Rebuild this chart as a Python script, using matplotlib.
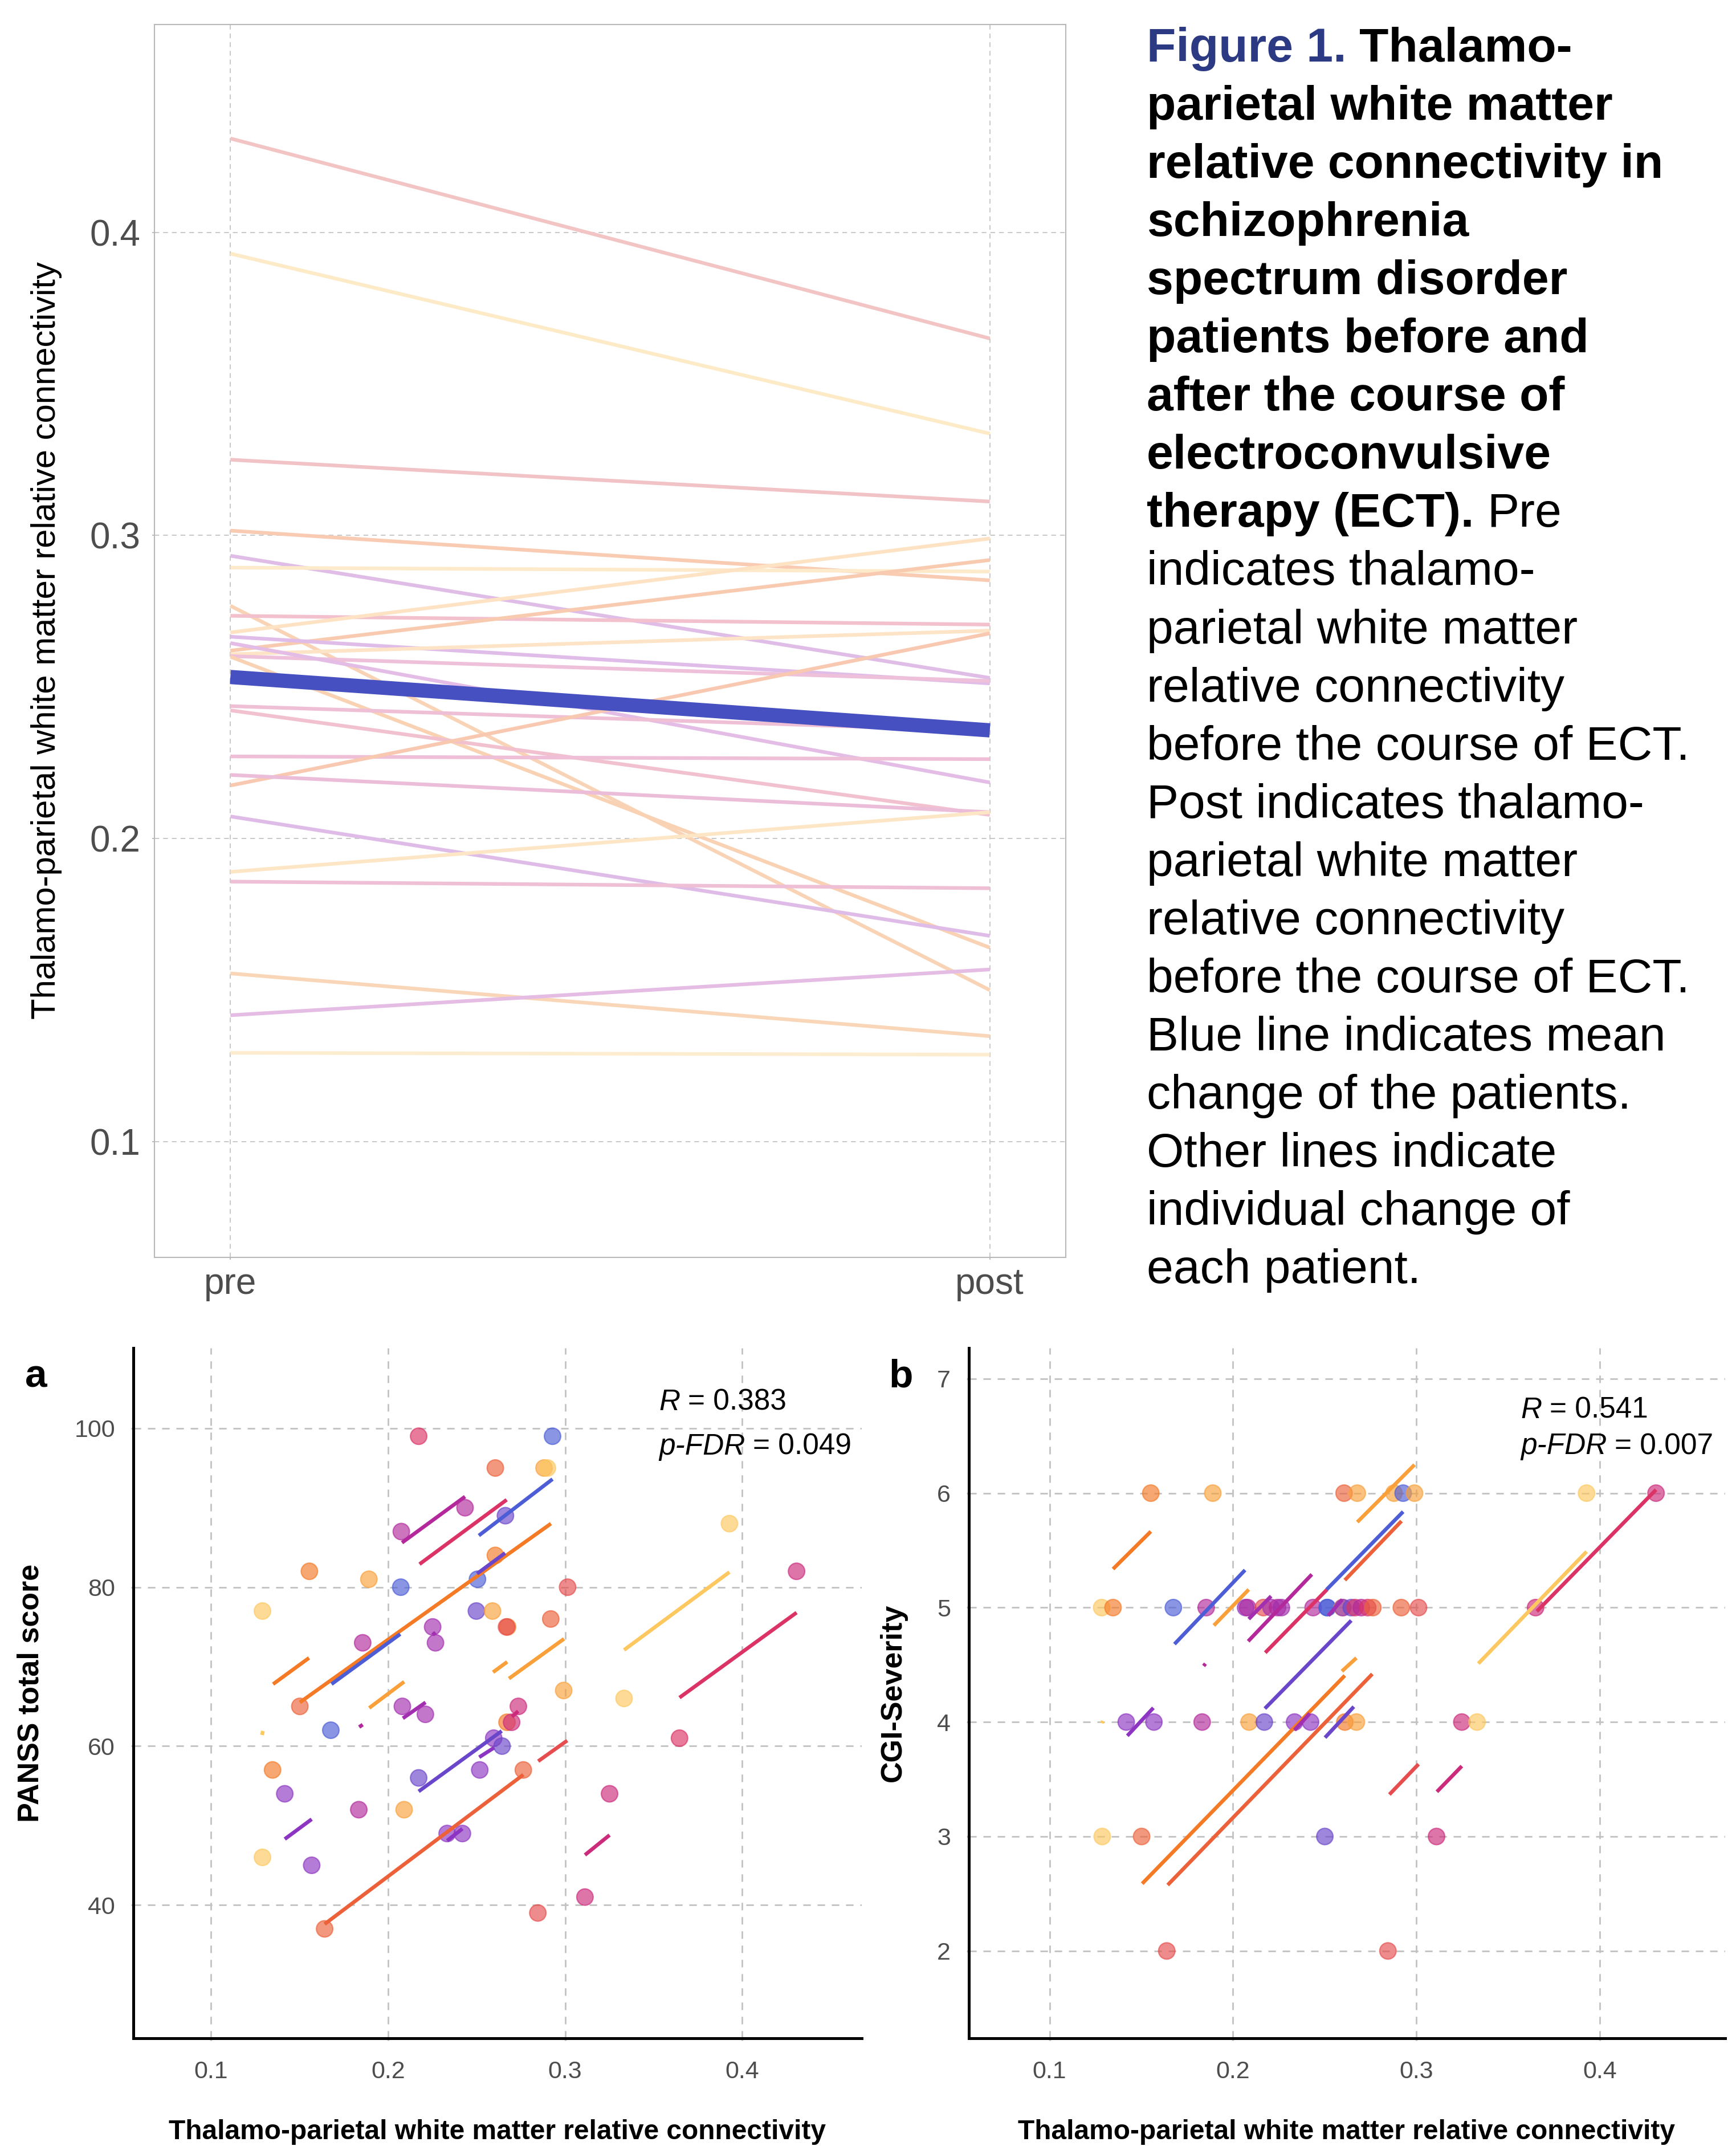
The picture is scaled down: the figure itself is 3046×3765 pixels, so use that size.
import matplotlib
matplotlib.use("Agg")
import matplotlib.pyplot as plt
import numpy as np

# ---------------- data ----------------
# Top panel: per-patient thalamo-parietal relative connectivity
pre_conn = [0.431, 0.393, 0.325, 0.3016, 0.2933, 0.2894, 0.2768, 0.2735, 0.268, 0.262,
            0.2666, 0.2608, 0.2602, 0.2600, 0.2645, 0.2437, 0.2423, 0.2271, 0.2175, 0.221,
            0.2073, 0.189, 0.1858, 0.1555, 0.1417, 0.1293]
post_conn = [0.365, 0.3336, 0.3112, 0.2852, 0.2530, 0.2881, 0.150, 0.2706, 0.299, 0.2919,
             0.2512, 0.2686, 0.2520, 0.164, 0.2185, 0.2355, 0.2078, 0.2262, 0.2677, 0.2087,
             0.1679, 0.2087, 0.1836, 0.1348, 0.1568, 0.1287]
top_line_colors = ['#f3c4c4', '#fdebc8', '#f2c3c6', '#f8cbb2', '#dfbde7', '#fdeacb', '#f9d3b5',
                   '#f2c1cd', '#fde3c3', '#f8cbb0', '#e0bde8', '#fde4c6', '#eec0d9', '#f9d1b3',
                   '#e3bde6', '#efbfd6', '#f1c1cf', '#eebfd6', '#f8c8b0', '#ecbdd8', '#dfbce8',
                   '#fde6c6', '#efbfd5', '#f9d6b8', '#e4bce4', '#fdedd0']
time_labels = ['pre', 'post']

PAL = {'blue': '#4c5dd6', 'indigo': '#6a46ca', 'violet': '#8d35c2', 'purple': '#a22eb0',
       'magenta': '#b3299c', 'rose': '#cc2b7c', 'crimson': '#dc3366', 'red': '#e54d4e',
       'redor': '#ec6139', 'orange': '#f47a26', 'lorange': '#f9a03a', 'yellow': '#fdc860'}

# Panel a: PANSS points
a_x = [0.2173, 0.2929, 0.2606, 0.2881, 0.2900, 0.2435, 0.2663, 0.2075, 0.3928, 0.2606,
       0.1556, 0.4307, 0.1892, 0.2072, 0.2505, 0.3014, 0.1291, 0.2499, 0.2590, 0.2919,
       0.2675, 0.2669, 0.2252, 0.1857, 0.2268, 0.2992, 0.3333, 0.1502, 0.2081, 0.2736,
       0.2211, 0.1677, 0.2672, 0.2698, 0.3646, 0.2597, 0.2644, 0.1348, 0.2518, 0.2764,
       0.2173, 0.1417, 0.3251, 0.1835, 0.2091, 0.2334, 0.2420, 0.1291, 0.1569, 0.3112,
       0.2846, 0.1642]
a_y = [99, 99, 95, 95, 95, 90, 89, 87, 88, 84,
       82, 82, 81, 80, 81, 80, 77, 77, 77, 76,
       75, 75, 75, 73, 73, 67, 66, 65, 65, 65,
       64, 62, 63, 63, 61, 61, 60, 57, 57, 57,
       56, 54, 54, 52, 52, 49, 49, 46, 45, 41,
       39, 37]
a_col = ['crimson', 'blue', 'redor', 'lorange', 'yellow', 'magenta', 'indigo', 'magenta', 'yellow', 'orange',
         'orange', 'rose', 'lorange', 'blue', 'blue', 'red', 'yellow', 'indigo', 'lorange', 'redor',
         'orange', 'red', 'purple', 'magenta', 'purple', 'lorange', 'yellow', 'redor', 'purple', 'rose',
         'purple', 'blue', 'orange', 'rose', 'crimson', 'violet', 'indigo', 'orange', 'violet', 'redor',
         'indigo', 'violet', 'rose', 'magenta', 'lorange', 'violet', 'violet', 'yellow', 'violet', 'rose',
         'red', 'redor']
# Panel a: repeated-measures fit segments
a_seg_x0 = [0.2079, 0.2178, 0.2513, 0.1502, 0.2503, 0.1681, 0.1351, 0.3333, 0.3646, 0.2683, 0.2593, 0.1894,
            0.2084, 0.1837, 0.2173, 0.2515, 0.2700, 0.2848, 0.1642, 0.1417, 0.2334, 0.3112, 0.2252, 0.1288]
a_seg_x1 = [0.2435, 0.2670, 0.2929, 0.2920, 0.2661, 0.2069, 0.1554, 0.3928, 0.4307, 0.2994, 0.2673, 0.2091,
            0.2212, 0.1857, 0.2642, 0.2599, 0.2735, 0.3012, 0.2764, 0.1569, 0.2420, 0.3251, 0.2268, 0.1294]
a_seg_y0 = [85.6, 82.9, 86.5, 65.5, 81.7, 67.8, 67.8, 72.1, 66.1, 68.5, 69.3, 64.8,
            63.5, 62.4, 54.3, 58.6, 63.7, 58.1, 37.6, 48.3, 48.1, 46.3, 74.0, 61.4]
a_seg_y1 = [91.4, 91.0, 93.6, 88.0, 84.3, 74.1, 71.1, 81.9, 76.8, 73.5, 70.6, 68.1,
            65.5, 62.7, 61.9, 59.8, 64.4, 60.7, 56.4, 50.8, 49.6, 48.8, 74.3, 61.9]
a_seg_col = ['magenta', 'crimson', 'blue', 'orange', 'indigo', 'blue', 'orange', 'yellow', 'crimson', 'lorange',
             'lorange', 'lorange', 'purple', 'magenta', 'indigo', 'violet', 'rose', 'red', 'redor', 'violet',
             'violet', 'rose', 'purple', 'yellow']

# Panel b: CGI-S points
b_x = [0.1552, 0.189, 0.2606, 0.2678, 0.2878, 0.2928, 0.299, 0.3928, 0.4307,
       0.1284, 0.1346, 0.1675, 0.1854, 0.2069, 0.2080, 0.2166, 0.2208, 0.2243, 0.2264, 0.2437,
       0.2513, 0.2516, 0.2596, 0.2599, 0.2645, 0.2666, 0.2700, 0.2735, 0.2763, 0.2918, 0.3012, 0.3650,
       0.1418, 0.1569, 0.1832, 0.2088, 0.2171, 0.2336, 0.2423, 0.2610, 0.2673, 0.3248, 0.3331,
       0.1287, 0.1502, 0.2501, 0.3110,
       0.1639, 0.2845]
b_y = [6] * 9 + [5] * 23 + [4] * 11 + [3] * 4 + [2] * 2
b_col = ['orange', 'lorange', 'redor', 'lorange', 'lorange', 'blue', 'lorange', 'yellow', 'rose',
         'yellow', 'orange', 'blue', 'magenta', 'violet', 'magenta', 'red', 'purple', 'magenta', 'purple', 'magenta',
         'blue', 'blue', 'lorange', 'violet', 'indigo', 'crimson', 'magenta', 'crimson', 'redor', 'redor', 'red', 'rose',
         'violet', 'violet', 'magenta', 'lorange', 'indigo', 'violet', 'violet', 'orange', 'lorange', 'rose', 'yellow',
         'yellow', 'redor', 'indigo', 'rose',
         'red', 'red']
b_seg_x0 = [0.1346, 0.1681, 0.1896, 0.2083, 0.2176, 0.2511, 0.2610, 0.2678, 0.2174, 0.1505, 0.1644, 0.2594,
            0.2502, 0.1424, 0.1840, 0.3338, 0.3657, 0.2853, 0.3112, 0.2086, 0.2336, 0.2520, 0.1285]
b_seg_x1 = [0.1552, 0.2066, 0.2086, 0.2430, 0.2513, 0.2928, 0.2919, 0.2990, 0.2645, 0.2610, 0.2760, 0.2673,
            0.2659, 0.1566, 0.1850, 0.3928, 0.4307, 0.3012, 0.3248, 0.2208, 0.2419, 0.2596, 0.1290]
b_seg_y0 = [5.337, 4.681, 4.844, 4.706, 4.606, 5.158, 5.240, 5.747, 4.118, 2.588, 2.576, 4.444,
            3.864, 3.880, 4.490, 4.511, 4.967, 3.367, 3.391, 4.900, 3.930, 4.930, 3.990]
b_seg_y1 = [5.665, 5.328, 5.158, 5.290, 5.158, 5.838, 5.756, 6.248, 4.887, 4.406, 4.420, 4.560,
            4.134, 4.124, 4.510, 5.489, 6.030, 3.632, 3.615, 5.100, 4.075, 5.070, 4.010]
b_seg_col = ['orange', 'blue', 'lorange', 'magenta', 'crimson', 'blue', 'redor', 'lorange', 'indigo', 'orange',
             'redor', 'lorange', 'indigo', 'violet', 'magenta', 'yellow', 'crimson', 'red', 'rose', 'purple',
             'purple', 'purple', 'yellow']

conn_ticks = [0.1, 0.2, 0.3, 0.4]
panss_ticks = [40, 60, 80, 100]
cgi_ticks = [2, 3, 4, 5, 6, 7]
stats_a = ("R", "= 0.383", "p-FDR", "= 0.049")
stats_b = ("R", "= 0.541", "p-FDR", "= 0.007")

caption_lines = [
    [("Figure 1.", "fig"), ("Thalamo-", "b")],
    [("parietal white matter", "b")],
    [("relative connectivity in", "b")],
    [("schizophrenia", "b")],
    [("spectrum disorder", "b")],
    [("patients before and", "b")],
    [("after the course of", "b")],
    [("electroconvulsive", "b")],
    [("therapy (ECT).", "b"), ("Pre", "r")],
    [("indicates thalamo-", "r")],
    [("parietal white matter", "r")],
    [("relative connectivity", "r")],
    [("before the course of ECT.", "r")],
    [("Post indicates thalamo-", "r")],
    [("parietal white matter", "r")],
    [("relative connectivity", "r")],
    [("before the course of ECT.", "r")],
    [("Blue line indicates mean", "r")],
    [("change of the patients.", "r")],
    [("Other lines indicate", "r")],
    [("individual change of", "r")],
    [("each patient.", "r")],
]

# ---------------- figure ----------------
W, H, DPI = 3046, 3765, 100
plt.rcParams['font.family'] = ['Liberation Sans', 'DejaVu Sans']
plt.rcParams['lines.scale_dashes'] = False

fig = plt.figure(figsize=(W / DPI, H / DPI), dpi=DPI)


def px_rect(l, t, r, b):
    return [l / W, 1 - b / H, (r - l) / W, (b - t) / H]


# ---- top panel ----
ax0 = fig.add_axes(px_rect(271, 43, 1870, 2206))
xpos = [1, 2]
for p0, p1, c in zip(pre_conn, post_conn, top_line_colors):
    ax0.plot(xpos, [p0, p1], color=c, lw=4.6, solid_capstyle='butt', zorder=2)
ax0.plot(xpos, [np.mean(pre_conn), np.mean(post_conn)], color='#4650c0', lw=18,
         solid_capstyle='butt', zorder=3)
ax0.set_xlim(0.9, 2.1)
ax0.set_ylim(0.0618, 0.4686)
ax0.set_xticks(xpos)
ax0.set_xticklabels(time_labels)
ax0.set_yticks(conn_ticks)
ax0.set_yticklabels([f"{v:.1f}" for v in conn_ticks])
ax0.grid(True, color='#c8c8c8', lw=1.4, ls=(0, (6, 5)))
ax0.set_axisbelow(True)
for s in ax0.spines.values():
    s.set_color('#b8b8b8')
    s.set_linewidth(1.5)
ax0.tick_params(axis='both', labelsize=46, labelcolor='#4d4d4d', color='#b8b8b8',
                length=3, width=1.3)
ax0.tick_params(axis='y', pad=15)
ax0.tick_params(axis='x', pad=9)


def scatter_panel(ax, px, py, pc, sx0, sx1, sy0, sy1, sc, xlim, ylim, yticks):
    ax.scatter(px, py, s=430, c=[PAL[k] for k in pc], edgecolors=[PAL[k] for k in pc],
               linewidths=1.6, alpha=0.65, zorder=3)
    for x0, x1, y0, y1, k in zip(sx0, sx1, sy0, sy1, sc):
        ax.plot([x0, x1], [y0, y1], color=PAL[k], lw=4.7, solid_capstyle='butt', zorder=4)
    ax.set_xlim(*xlim)
    ax.set_ylim(*ylim)
    ax.set_xticks(conn_ticks)
    ax.set_xticklabels([f"{v:.1f}" for v in conn_ticks])
    ax.set_yticks(yticks)
    ax.set_yticklabels([str(v) for v in yticks])
    ax.grid(True, color='#c2c2c2', lw=2.0, ls=(0, (9.5, 8.5)))
    ax.set_axisbelow(True)
    for side in ('top', 'right'):
        ax.spines[side].set_visible(False)
    for side in ('left', 'bottom'):
        ax.spines[side].set_color('black')
        ax.spines[side].set_linewidth(3.6)
    ax.tick_params(axis='both', labelsize=31, labelcolor='#4d4d4d', color='#c2c2c2',
                   length=3, width=2.5)
    ax.tick_params(axis='y', pad=20)
    ax.tick_params(axis='x', pad=25)


axa = fig.add_axes(px_rect(234, 2365, 1512, 3576))
scatter_panel(axa, a_x, a_y, a_col, a_seg_x0, a_seg_x1, a_seg_y0, a_seg_y1, a_seg_col,
              (0.0562, 0.4675), (23.23, 110.1), panss_ticks)
axb = fig.add_axes(px_rect(1700, 2365, 3027, 3576))
scatter_panel(axb, b_x, b_y, b_col, b_seg_x0, b_seg_x1, b_seg_y0, b_seg_y1, b_seg_col,
              (0.056, 0.4684), (1.237, 7.268), cgi_ticks)

# ---- overlay for free text (pixel coordinates from top-left) ----
ov = fig.add_axes([0, 0, 1, 1], zorder=10)
ov.set_xlim(0, W)
ov.set_ylim(H, 0)
ov.axis('off')
ov.patch.set_visible(False)


def chain(x, y, parts, size, gap):
    t = None
    for s, kw in parts:
        if t is None:
            t = ov.text(x, y, s, fontsize=size, va='baseline', ha='left', **kw)
        else:
            t = ov.annotate(s, xy=(1, 0), xycoords=t, xytext=(gap, 0),
                            textcoords='offset pixels', va='bottom', ha='left',
                            fontsize=size, **kw)
    return t


# top panel y label
ov.text(82, 1124, "Thalamo-parietal white matter relative connectivity", rotation=90,
        fontsize=43, color='black', ha='center', va='center')

# panels a/b labels
ov.text(44, 2433, "a", fontsize=50, fontweight='bold', ha='left', va='baseline')
ov.text(1559, 2433, "b", fontsize=50, fontweight='bold', ha='left', va='baseline')
for cx in (873, 2363):
    ov.text(cx, 3753, "Thalamo-parietal white matter relative connectivity", fontsize=34.5,
            fontweight='bold', ha='center', va='baseline')
ov.text(54, 2970, "PANSS total score", rotation=90, fontsize=37.5, fontweight='bold',
        ha='center', va='center')
ov.text(1567, 2970, "CGI-Severity", rotation=90, fontsize=37.5, fontweight='bold',
        ha='center', va='center')

ital = dict(style='italic')
reg = dict()
for (x, y1, y2), st in zip([(1156, 2474, 2552), (2668, 2488, 2551)], [stats_a, stats_b]):
    chain(x, y1, [(st[0], ital), (st[1], reg)], 37, 14)
    chain(x, y2, [(st[2], ital), (st[3], reg)], 37, 14)

# caption
styles = {'fig': dict(fontweight='bold', color='#2c3a84'),
          'b': dict(fontweight='bold', color='black'),
          'r': dict(fontweight='normal', color='black')}
for i, line in enumerate(caption_lines):
    y = 108 + i * 102.05
    chain(2012, y, [(s, styles[k]) for s, k in line], 60.5, 23)

fig.savefig("out.png", dpi=DPI)
